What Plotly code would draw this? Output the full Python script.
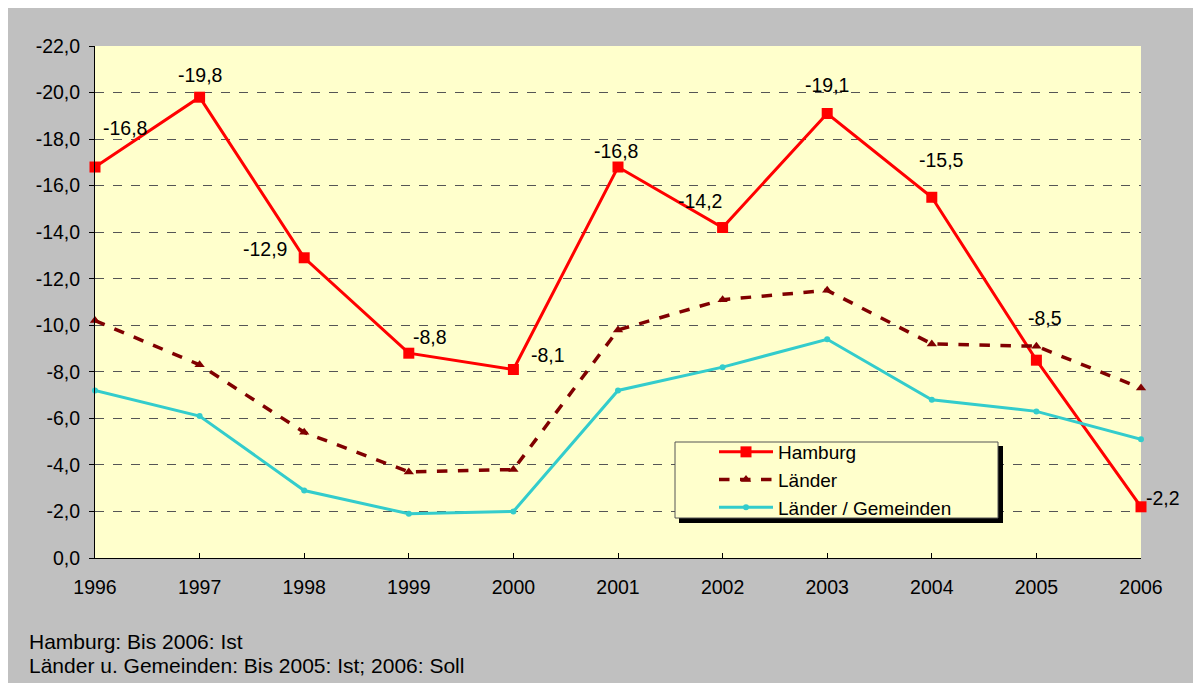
import plotly.graph_objects as go

years = [1996, 1997, 1998, 1999, 2000, 2001, 2002, 2003, 2004, 2005, 2006]
hamburg = [-16.8, -19.8, -12.9, -8.8, -8.1, -16.8, -14.2, -19.1, -15.5, -8.5, -2.2]
laender = [-10.2, -8.3, -5.4, -3.7, -3.8, -9.8, -11.1, -11.5, -9.2, -9.1, -7.3]
laender_gem = [-7.2, -6.1, -2.9, -1.9, -2.0, -7.2, -8.2, -9.4, -6.8, -6.3, -5.1]
y_ticks = [0, -2, -4, -6, -8, -10, -12, -14, -16, -18, -20, -22]


def fmt(v):
    s = ("%.1f" % v).replace(".", ",")
    return "0,0" if s == "-0,0" else s


y_ticktext = [fmt(v) for v in y_ticks]
# label offsets (pixels) for Hamburg value labels
lab_dx = [30, 0, -39, 21, 35, -2, -23, 0, 10, 9, 22]
lab_dy = [39, 22, 9, 16, 14, 16, 27, 28, 37, 42, 9]
footnotes = ["Hamburg: Bis 2006: Ist", "Länder u. Gemeinden: Bis 2005: Ist; 2006: Soll"]

FONT = "Liberation Sans, Arial, sans-serif"
OFF = 8  # page body margin
W, H = 1201 - OFF, 683 - OFF
L, T = 95 - OFF, 46 - OFF
R = W - (1141 - OFF)
B = H - (558 - OFF)
pw, ph = W - L - R, H - T - B


def px(page_x):
    return (page_x - OFF - L) / pw


def py(page_y):
    return (H - B - (page_y - OFF)) / ph


fig = go.Figure()
fig.add_trace(go.Scatter(x=years, y=hamburg, name="Hamburg", mode="lines+markers",
                         line=dict(color="#FF0000", width=3),
                         marker=dict(symbol="square", size=11, color="#FF0000"),
                         cliponaxis=False))
fig.add_trace(go.Scatter(x=years, y=laender, name="Länder", mode="lines+markers",
                         line=dict(color="#800000", width=3.5, dash="dash"),
                         marker=dict(symbol="triangle-up", size=9, color="#800000"),
                         cliponaxis=False))
fig.add_trace(go.Scatter(x=years, y=laender_gem, name="Länder / Gemeinden", mode="lines+markers",
                         line=dict(color="#33CCCC", width=3),
                         marker=dict(symbol="circle", size=6, color="#33CCCC"),
                         cliponaxis=False))

for x, v, dx, dy in zip(years, hamburg, lab_dx, lab_dy):
    fig.add_annotation(x=x, y=v, xref="x", yref="y", text=fmt(v),
                       showarrow=False, xshift=dx, yshift=dy,
                       font=dict(family=FONT, size=19.5, color="black"))

for i, t in enumerate(footnotes):
    fig.add_annotation(x=px(27), y=py(641 + 24 * i), xref="paper", yref="paper",
                       text=t, showarrow=False, xanchor="left", yanchor="middle",
                       font=dict(family=FONT, size=21, color="black"))

# legend box with shadow
fig.add_shape(type="rect", xref="paper", yref="paper", x0=px(679), x1=px(1003),
              y0=py(523), y1=py(446), fillcolor="black", line_width=0, layer="above")
fig.add_shape(type="rect", xref="paper", yref="paper", x0=px(675), x1=px(998),
              y0=py(518), y1=py(442), fillcolor="#FFFFCC",
              line=dict(color="#555555", width=1), layer="above")

fig.update_layout(
    width=W, height=H,
    margin=dict(l=L, r=R, t=T, b=B, pad=0),
    paper_bgcolor="#C0C0C0", plot_bgcolor="#FFFFCC",
    font=dict(family=FONT, size=19.5, color="black"),
    showlegend=True,
    legend=dict(x=px(714), y=py(433), xanchor="left", yanchor="top",
                bgcolor="rgba(0,0,0,0)", borderwidth=0,
                font=dict(family=FONT, size=19, color="black"), itemwidth=54,
                tracegroupgap=0),
    xaxis=dict(range=[1996, 2006], tickvals=years, ticktext=[str(y) for y in years],
               showgrid=False, zeroline=False, showline=True, linecolor="black", linewidth=1,
               ticks="inside", ticklen=5, tickcolor="black", ticklabelstandoff=12,
               tickfont=dict(family=FONT, size=19.5)),
    yaxis=dict(range=[0, -22], tickvals=y_ticks, ticktext=y_ticktext,
               showgrid=True, gridcolor="#555555", griddash="dash", gridwidth=1,
               zeroline=False, showline=True, linecolor="black", linewidth=1,
               ticks="outside", ticklen=5, tickcolor="black", ticklabelstandoff=5,
               tickfont=dict(family=FONT, size=19.5)),
)

fig.write_html("out.html")
